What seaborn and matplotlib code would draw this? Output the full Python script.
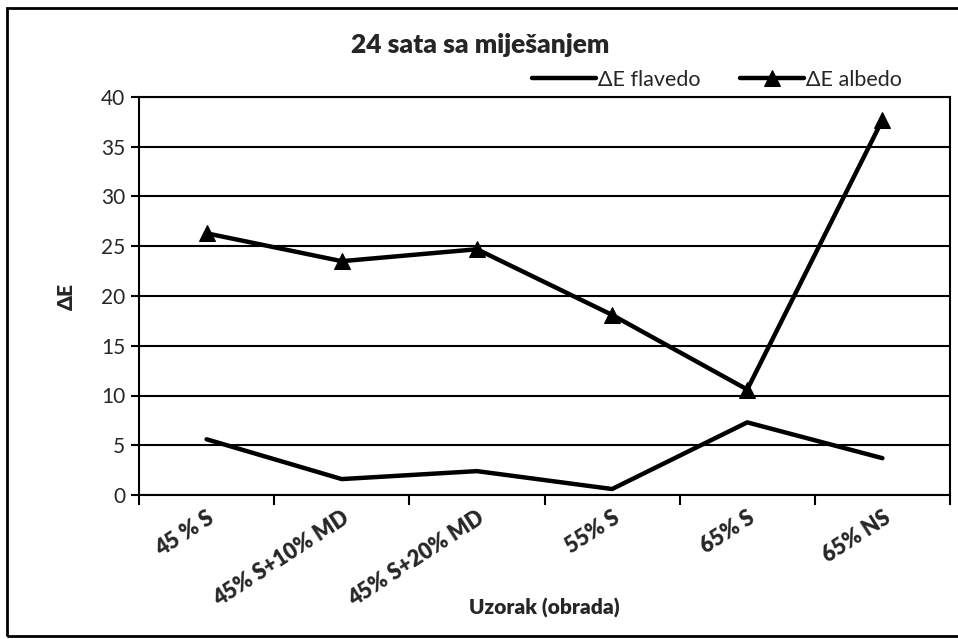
import matplotlib
matplotlib.use("Agg")
import matplotlib.pyplot as plt
import seaborn as sns
import pandas as pd
from matplotlib.patches import Rectangle

categories = ["45 % S", "45% S+10% MD", "45% S+20% MD", "55% S", "65% S", "65% NS"]
flavedo = [5.6, 1.6, 2.4, 0.6, 7.3, 3.7]
albedo = [26.3, 23.5, 24.7, 18.1, 10.6, 37.7]
series_names = ["ΔE flavedo", "ΔE albedo"]
yticks = [0, 5, 10, 15, 20, 25, 30, 35, 40]
title = "24 sata sa miješanjem"
xlabel = "Uzorak (obrada)"
ylabel = "ΔE"

sns.set_theme(style="white")
plt.rcParams['font.family'] = ['Lato', 'DejaVu Sans']

df_f = pd.DataFrame({"cat": categories, "val": flavedo})
df_a = pd.DataFrame({"cat": categories, "val": albedo})

fig = plt.figure(figsize=(9.58, 6.39), dpi=100)
ax = fig.add_axes([139/958, 1-495/639, (950-139)/958, (495-97)/639])

sns.lineplot(data=df_f, x="cat", y="val", color="black", linewidth=3.2, sort=False,
             ax=ax, label=series_names[0])
sns.lineplot(data=df_a, x="cat", y="val", color="black", linewidth=3.2, sort=False,
             marker="^", markersize=12, markeredgecolor="black", ax=ax, label=series_names[1])

ax.set_xlim(-0.5, len(categories) - 0.5)
ax.set_ylim(0, 40)
ax.set_yticks(yticks)
ax.set_yticklabels([str(t) for t in yticks], fontsize=15)
ax.set_xticks(range(len(categories)))
ax.set_xticklabels(categories, fontsize=15.5, fontweight="heavy", rotation=33,
                   ha="right", rotation_mode="anchor")
ax.set_xticks([i - 0.5 for i in range(len(categories) + 1)], minor=True)
ax.tick_params(axis="x", which="major", length=0, pad=9)
ax.tick_params(axis="x", which="minor", length=7, width=1.5, color="black", direction="out")
ax.tick_params(axis="y", which="major", length=6, width=1.5, color="black", direction="out", pad=4)
ax.xaxis.set_ticks_position("bottom")
ax.yaxis.set_ticks_position("left")

ax.grid(axis="y", color="black", linewidth=1.5)
ax.set_axisbelow(True)
for s in ax.spines.values():
    s.set_color("black")
    s.set_linewidth(1.5)

ax.set_xlabel(xlabel, fontsize=15, fontweight="heavy")
ax.xaxis.set_label_coords(0.5, (495 - 608) / 398)
ax.xaxis.label.set_va("center")
ax.set_ylabel(ylabel, fontsize=15, fontweight="heavy", labelpad=18)

fig.text(480/958, 1-45/639, title, ha="center", va="center", fontsize=19, fontweight="heavy")

handles, labels = ax.get_legend_handles_labels()
ax.legend(handles, labels, loc="center", bbox_to_anchor=(717/958, 1-80/639),
          bbox_transform=fig.transFigure, ncol=2, frameon=False, fontsize=15.5,
          handlelength=3.0, columnspacing=1.8, handletextpad=0.1)

fig.patches.append(Rectangle((7/958, 1-636/639), 1.0, (636-8)/639, transform=fig.transFigure,
                             fill=False, edgecolor="black", linewidth=2))

fig.savefig("out.png", dpi=100)
